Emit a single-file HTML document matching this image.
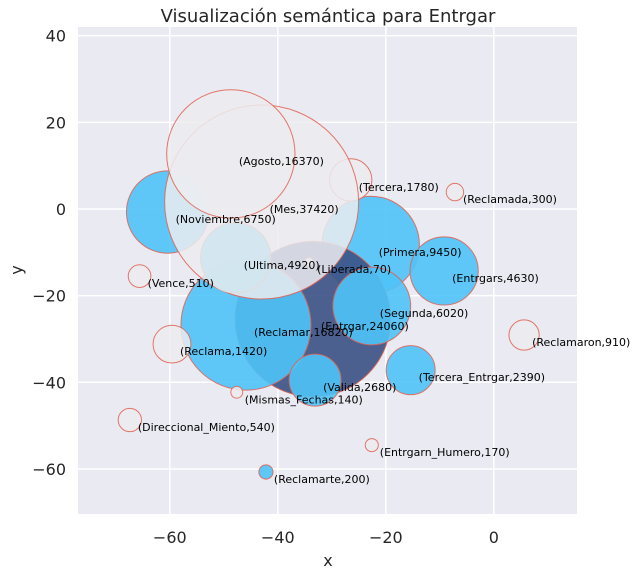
<!DOCTYPE html>
<html><head><meta charset="utf-8"><style>
body{margin:0;background:#fff;font-family:"Liberation Sans","DejaVu Sans",sans-serif}
</style></head><body>
<svg width="637" height="576" xmlns="http://www.w3.org/2000/svg" font-family="DejaVu Sans, Liberation Sans, sans-serif">
<rect x="0" y="0" width="637" height="576" fill="#fff"/>
<rect x="78" y="27" width="499" height="487" fill="#eaeaf2"/>
<g id="grid"></g>
<g id="bubbles"></g>
<g id="labels"></g>
<g id="ticks"></g>
<text x="328" y="22" text-anchor="middle" font-size="18" fill="#262626">Visualización semántica para Entrgar</text>
<text x="328" y="566" text-anchor="middle" font-size="16" fill="#262626">x</text>
<text x="22" y="270" text-anchor="middle" font-size="16" fill="#262626" transform="rotate(-90 22 270)">y</text>
</svg>
<script>
const names=["Noviembre","Primera","Entrgars","Entrgar","Reclamar","Segunda","Valida","Tercera_Entrgar","Reclamarte","Vence","Reclama","Reclamaron","Mismas_Fechas","Direccional_Miento","Entrgarn_Humero","Tercera","Reclamada","Liberada","Mes","Agosto","Ultima"];
const xs=[-60.4,-22.8,-9.2,-33.5,-45.9,-22.6,-33.1,-15.4,-42.2,-65.6,-59.6,5.6,-47.6,-67.4,-22.6,-26.5,-7.2,-34.2,-43.0,-48.7,-47.8];
const ys=[-0.7,-8.3,-14.3,-25.4,-26.8,-22.4,-39.5,-37.2,-60.7,-15.5,-31.2,-29.1,-42.3,-48.7,-54.5,6.7,3.9,-12.2,1.6,12.7,-11.3];
const sizes=[6750,9450,4630,24060,16820,6020,2680,2390,200,510,1420,910,140,540,170,1780,300,70,37420,16370,4920];
const kinds=["b","b","b","n","b","b","b","b","b","w","w","w","w","w","w","w","w","w","w","w","u"];
const xTicks=[-60,-40,-20,0];
const yTicks=[40,20,0,-20,-40,-60];
const X0=-77,X1=15.4,Y0=-70.4,Y1=42;
const sx=v=>78+(v-X0)/(X1-X0)*499;
const sy=v=>514-(v-Y0)/(Y1-Y0)*487;
const rs=v=>0.5014*Math.sqrt(v);
const NS="http://www.w3.org/2000/svg";
function mk(t,a,p){const e=document.createElementNS(NS,t);for(const k in a)e.setAttribute(k,a[k]);p.appendChild(e);return e;}
const grid=document.getElementById('grid'),tk=document.getElementById('ticks');
xTicks.forEach(v=>{
 const l=mk('line',{x1:sx(v),x2:sx(v),y1:27,y2:514,stroke:'#fff','stroke-width':1.5},grid);
 
 
 const t=mk('text',{x:sx(v),y:543,'text-anchor':'middle','font-size':16,fill:'#262626'},tk);
 t.textContent=(v<0?'\u2212'+(-v):v);
 
 
});
yTicks.forEach(v=>{
 const l=mk('line',{x1:78,x2:577,y1:sy(v),y2:sy(v),stroke:'#fff','stroke-width':1.5},grid);
 
 
 const t=mk('text',{x:66,y:sy(v)+6,'text-anchor':'end','font-size':16,fill:'#262626'},tk);
 t.textContent=(v<0?'\u2212'+(-v):v);
 
 
});
const fills={b:['#4fc3f7',0.9,'#e0604f'],n:['#3b5185',0.9,'#e0604f'],w:['#ececf0',0.85,'#e0604f'],u:['#d2e6f0',0.9,'#e8d8d4']};
const bg=document.getElementById('bubbles'),lg=document.getElementById('labels');
names.forEach((n,i)=>{
 const f=fills[kinds[i]];
 const c=mk('circle',{cx:sx(xs[i]),cy:sy(ys[i]),r:rs(sizes[i]),fill:f[0],'fill-opacity':f[1],stroke:f[2],'stroke-width':1,'stroke-opacity':0.85},bg);
 
 
 const t=mk('text',{x:sx(xs[i])+8,y:sy(ys[i])+11,'font-size':11,fill:'#000'},lg);
 t.textContent='('+n+','+sizes[i]+')';
 
 
});
</script>
</body></html>
